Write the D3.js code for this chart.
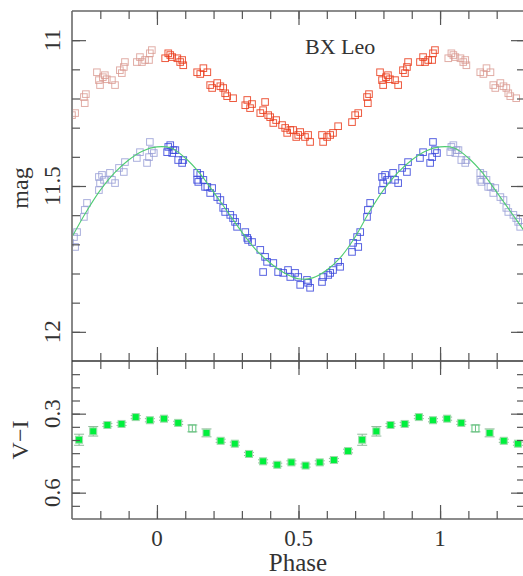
<!DOCTYPE html>
<html>
<head>
<meta charset="utf-8">
<script src="https://cdn.jsdelivr.net/npm/d3@7"></script>
<style>
  body { margin: 0; background: #fff; }
  text { font-family: "Liberation Serif", "DejaVu Serif", serif; fill: #333; }
</style>
</head>
<body>
<script>
// V band (upper, red) - phase folded, one cycle
var redPhase = [0.029,0.040,0.047,0.054,0.072,0.082,0.089,0.093,0.142,0.153,
    0.164,0.178,0.188,0.195,0.213,0.224,0.234,0.241,0.248,0.269,
    0.312,0.319,0.329,0.336,0.365,0.375,0.382,0.393,0.400,0.411,
    0.421,0.442,0.453,0.460,0.471,0.481,0.492,0.499,0.506,0.523,
    0.534,0.541,0.583,0.587,0.601,0.612,0.622,0.640,0.689,0.700,
    0.711,0.742,0.745,0.749,0.788,0.795,0.799,0.809,0.816,0.823,
    0.841,0.852,0.869,0.876,0.883,0.887,0.929,0.940,0.947,0.958,
    0.972,0.975,0.982];
var redMag = [11.062,11.045,11.051,11.058,11.062,11.075,11.068,11.086,11.110,11.116,
    11.096,11.110,11.154,11.164,11.147,11.158,11.164,11.182,11.192,11.199,
    11.223,11.205,11.233,11.219,11.250,11.240,11.212,11.257,11.264,11.284,
    11.274,11.291,11.301,11.318,11.308,11.308,11.332,11.325,11.315,11.332,
    11.325,11.349,11.325,11.349,11.332,11.325,11.318,11.295,11.281,11.257,
    11.250,11.195,11.216,11.185,11.110,11.137,11.154,11.127,11.120,11.134,
    11.137,11.154,11.103,11.113,11.092,11.075,11.075,11.058,11.075,11.068,
    11.068,11.045,11.034];

// I band (lower, blue)
var bluePhase = [0.036,0.040,0.047,0.054,0.058,0.065,0.075,0.089,0.093,0.142,
    0.142,0.146,0.153,0.164,0.170,0.178,0.188,0.195,0.213,0.224,
    0.234,0.241,0.259,0.269,0.276,0.283,0.312,0.319,0.322,0.336,
    0.365,0.375,0.382,0.389,0.411,0.428,0.446,0.463,0.471,0.488,
    0.499,0.506,0.530,0.534,0.541,0.583,0.587,0.605,0.612,0.622,
    0.640,0.647,0.689,0.693,0.707,0.711,0.718,0.742,0.745,0.753,
    0.795,0.795,0.799,0.806,0.813,0.834,0.841,0.852,0.866,0.883,
    0.887,0.929,0.940,0.965,0.972,0.975,0.982,0.989];
var blueMag = [11.384,11.366,11.360,11.387,11.377,11.377,11.411,11.421,11.411,11.455,
    11.479,11.486,11.462,11.479,11.503,11.503,11.524,11.507,11.538,11.548,
    11.575,11.589,11.599,11.610,11.623,11.640,11.658,11.678,11.685,11.692,
    11.719,11.795,11.743,11.760,11.764,11.795,11.798,11.788,11.812,11.798,
    11.812,11.839,11.822,11.832,11.849,11.829,11.812,11.805,11.798,11.788,
    11.760,11.777,11.726,11.695,11.675,11.709,11.658,11.606,11.582,11.558,
    11.514,11.469,11.490,11.462,11.479,11.455,11.479,11.490,11.438,11.452,
    11.418,11.404,11.384,11.421,11.401,11.349,11.377,11.387];

// fitted curve through the I band
var fitPhase = [0,0.05,0.1,0.15,0.2,0.25,0.3,0.35,0.4,0.45,
    0.5,0.55,0.6,0.65,0.7,0.75,0.8,0.85,0.9,0.95];
var fitMag = [11.366,11.370,11.404,11.455,11.521,11.589,11.658,11.719,11.764,11.798,
    11.818,11.815,11.788,11.743,11.675,11.589,11.514,11.455,11.411,11.380];

// V-I colour, binned
var colorPhase = [0.025,0.075,0.125,0.175,0.225,0.275,0.325,0.375,0.425,0.475,
    0.525,0.575,0.625,0.675,0.725,0.775,0.825,0.875,0.925,0.975];
var colorVI = [0.319,0.335,0.356,0.373,0.403,0.414,0.453,0.481,0.494,0.485,
    0.497,0.485,0.476,0.442,0.399,0.367,0.343,0.339,0.313,0.325];
var colorErr = [0.006,0.006,0.013,0.015,0.006,0.006,0.006,0.006,0.006,0.006,
    0.006,0.006,0.006,0.007,0.021,0.018,0.006,0.006,0.006,0.006];
var openPhases = [0.125];

var xTicks = ['0', '0.5', '1'];
var magTicks = ['11', '11.5', '12'];
var viTicks = ['0.3', '0.6'];

var svg = d3.select('body').append('svg')
    .attr('width', 523)
    .attr('height', 576);

var x = d3.scaleLinear().domain([-0.3, 1.3]).range([72, 525]);
var yMag = d3.scaleLinear().domain([10.9, 12.1]).range([11, 361]);
var yVI = d3.scaleLinear().domain([0.1, 0.7]).range([361, 519]);

// phase-fold: repeat each point one cycle either side, keep those in view
function fold(ph, val) {
    var out = [];
    ph.forEach(function (p, i) {
        [-1, 0, 1].forEach(function (k) {
            var q = p + k;
            if (q >= -0.33 && q <= 1.33) out.push({p: q, v: val[i], main: k == 0, i: i});
        });
    });
    return out;
}

var defs = svg.append('defs');
defs.append('clipPath').attr('id', 'clipTop').append('rect')
    .attr('x', 72).attr('y', 11).attr('width', 453).attr('height', 350);
defs.append('clipPath').attr('id', 'clipBot').append('rect')
    .attr('x', 72).attr('y', 361).attr('width', 453).attr('height', 158);

var magPanel = svg.append('g').attr('clip-path', 'url(#clipTop)');

function drawSquares(ph, val, colDark, colLight) {
    var pts = fold(ph, val);
    pts.sort(function (a, b) { return a.main - b.main; });
    magPanel.selectAll(null).data(pts).enter().append('rect')
        .attr('x', function (d) { return x(d.p) - 3.3; })
        .attr('y', function (d) { return yMag(d.v) - 3.3; })
        .attr('width', 6.6)
        .attr('height', 6.6)
        .attr('fill', 'none')
        .attr('stroke', function (d) { return d.main ? colDark : colLight; })
        .attr('stroke-width', 1)
        .attr('stroke-opacity', function (d) { return d.main ? 0.85 : 0.8; });
}

drawSquares(redPhase, redMag, '#ea3c1c', '#d99890');
drawSquares(bluePhase, blueMag, '#3a46dc', '#959bd4');

var fitPts = fold(fitPhase, fitMag).sort(function (a, b) { return a.p - b.p; });
magPanel.append('path')
    .datum(fitPts)
    .attr('fill', 'none')
    .attr('stroke', '#4fcc72')
    .attr('stroke-width', 1.1)
    .attr('d', d3.line()
        .x(function (d) { return x(d.p); })
        .y(function (d) { return yMag(d.v); })
        .curve(d3.curveCatmullRom));

// colour panel
var colPanel = svg.append('g').attr('clip-path', 'url(#clipBot)');
var cpts = fold(colorPhase, colorVI);

colPanel.selectAll(null).data(cpts).enter().append('g')
    .each(function (d) {
        var g = d3.select(this);
        var cx = x(d.p), e = colorErr[d.i];
        var y0 = yVI(d.v - e), y1 = yVI(d.v + e);
        g.append('line').attr('x1', cx).attr('x2', cx).attr('y1', y0).attr('y2', y1)
            .attr('stroke', '#6cbf84').attr('stroke-width', 1);
        [y0, y1].forEach(function (yy) {
            g.append('line').attr('x1', cx - 5).attr('x2', cx + 5).attr('y1', yy).attr('y2', yy)
                .attr('stroke', '#8fb89a').attr('stroke-width', 1);
        });
        var open = openPhases.indexOf(colorPhase[d.i]) >= 0;
        g.append('rect')
            .attr('x', cx - 3.5).attr('y', yVI(d.v) - 3.5)
            .attr('width', 7).attr('height', 7)
            .attr('fill', open ? 'none' : '#00f03c')
            .attr('stroke', open ? '#5cc87a' : '#9fd9ab')
            .attr('stroke-width', 1);
    });

// frame
var frame = svg.append('g').attr('stroke', '#666').attr('stroke-width', 1.3);
frame.append('line').attr('x1', 72).attr('x2', 72).attr('y1', 11).attr('y2', 519).attr('stroke', '#888').attr('stroke-width', 2);
frame.append('line').attr('x1', 72).attr('x2', 525).attr('y1', 11).attr('y2', 11);
frame.append('line').attr('x1', 72).attr('x2', 525).attr('y1', 361).attr('y2', 361).attr('stroke', '#333');
frame.append('line').attr('x1', 72).attr('x2', 525).attr('y1', 519).attr('y2', 519);

// ticks
function tickSet(axis, vals, size, tx, ty) {
    svg.append('g')
        .attr('transform', 'translate(' + tx + ',' + ty + ')')
        .call(axis.tickValues(vals).tickSize(size).tickFormat(''))
        .call(function (g) { g.select('.domain').remove(); })
        .selectAll('line').attr('stroke', '#555').attr('stroke-width', 1.2);
}

var xMinor = d3.range(-2, 13).map(function (i) { return i / 10; });
var xMajor = xTicks.map(Number);
var magMinor = d3.range(110, 121).map(function (i) { return i / 10; });
var magMajor = magTicks.map(Number);
var viMinor = d3.range(3, 14).map(function (i) { return i / 20; });
var viMajor = viTicks.map(Number);

[[d3.axisBottom, 11], [d3.axisTop, 361], [d3.axisBottom, 361], [d3.axisTop, 519]].forEach(function (a) {
    tickSet(a[0](x), xMinor, 8, 0, a[1]);
    tickSet(a[0](x), xMajor, 14, 0, a[1]);
});
tickSet(d3.axisRight(yMag), magMinor, 8, 72, 0);
tickSet(d3.axisRight(yMag), magMajor, 14, 72, 0);
tickSet(d3.axisLeft(yMag), magMinor, 8, 525, 0);
tickSet(d3.axisLeft(yMag), magMajor, 14, 525, 0);
tickSet(d3.axisRight(yVI), viMinor, 8, 72, 0);
tickSet(d3.axisRight(yVI), viMajor, 14, 72, 0);
tickSet(d3.axisLeft(yVI), viMinor, 8, 525, 0);
tickSet(d3.axisLeft(yVI), viMajor, 14, 525, 0);

// labels
svg.selectAll(null).data(xTicks).enter().append('text')
    .attr('x', function (d) { return x(+d); })
    .attr('y', 546)
    .attr('text-anchor', 'middle')
    .attr('font-size', 23)
    .text(function (d) { return d; });

function yLabels(vals, scale) {
    svg.selectAll(null).data(vals).enter().append('text')
        .attr('transform', function (d) { return 'translate(60,' + scale(+d) + ') rotate(-90)'; })
        .attr('text-anchor', 'middle')
        .attr('font-size', 23)
        .text(function (d) { return d; });
}
yLabels(magTicks, yMag);
yLabels(viTicks, yVI);

svg.append('text').attr('transform', 'translate(28,188) rotate(-90)')
    .attr('text-anchor', 'middle').attr('font-size', 24).text('mag');
svg.append('text').attr('transform', 'translate(28,440) rotate(-90)')
    .attr('text-anchor', 'middle').attr('font-size', 24).text('V\u2212I');
svg.append('text').attr('x', 298).attr('y', 571)
    .attr('text-anchor', 'middle').attr('font-size', 25).text('Phase');
svg.append('text').attr('x', 305).attr('y', 54)
    .attr('font-size', 22).text('BX Leo');
</script>
</body>
</html>
